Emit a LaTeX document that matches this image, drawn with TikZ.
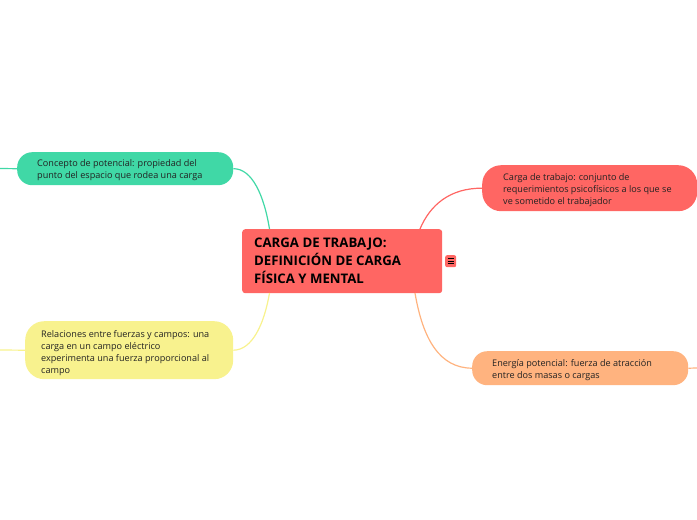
\documentclass[tikz,border=0pt]{standalone}
\usepackage{fontspec}
\setmainfont{Open Sans}
\definecolor{cgreen}{HTML}{40D8A6}
\definecolor{cyellow}{HTML}{F8F28E}
\definecolor{cred}{HTML}{FF6663}
\definecolor{corange}{HTML}{FFB37F}
\definecolor{ctext}{HTML}{222222}
\tikzset{
  topic/.style={rounded corners=#1,inner sep=0pt,anchor=north west},
  label/.style={anchor=north west,align=left,inner sep=0pt,text=ctext,font=\fontsize{9.1}{12}\selectfont},
  link/.style={line width=1.2pt},
}
\begin{document}
\begin{tikzpicture}[x=1pt,y=-1pt]
\useasboundingbox (0,0) rectangle (697,520);
\node[anchor=north west,fill=cred,rounded corners=3pt,minimum width=200pt,minimum height=64pt,inner sep=0pt] (c) at (242,229) {};
\node[anchor=north west,align=left,inner sep=0pt,text=black,font=\fontsize{13.2}{18}\selectfont\bfseries] (ct) at (254,238) {CARGA DE TRABAJO:\\DEFINICIÓN DE CARGA\\FÍSICA Y MENTAL};
\node[anchor=north west,fill=cred,rounded corners=2pt,minimum width=11pt,minimum height=12pt,inner sep=0pt] (ic) at (445,255) {};
\draw[black,line width=0.8pt] (447.5,258.5) -- (453.5,258.5) (447.5,261) -- (453.5,261) (447.5,263.5) -- (453.5,263.5);
% topics
\node[topic=15pt,fill=cgreen,minimum width=216pt,minimum height=33pt] (g) at (17,152) {};
\node[label] (gt) at (37,159.5) {Concepto de potencial: propiedad del\\punto del espacio que rodea una carga};
\node[topic=19pt,fill=cyellow,minimum width=208pt,minimum height=58pt] (y) at (25,321) {};
\node[label] (yt) at (41,330) {Relaciones entre fuerzas y campos: una\\carga en un campo eléctrico\\experimenta una fuerza proporcional al\\campo};
\node[topic=19pt,fill=cred,minimum width=215pt,minimum height=46pt] (r) at (482,165) {};
\node[label] (rt) at (503,173.5) {Carga de trabajo: conjunto de\\requerimientos psicofísicos a los que se\\ve sometido el trabajador};
\node[topic=15pt,fill=corange,minimum width=216pt,minimum height=34pt] (o) at (472,351) {};
\node[label] (ot) at (492,359) {Energía potencial: fuerza de atracción\\entre dos masas o cargas};
% connectors
\coordinate (gl) at (0,168.5);
\coordinate (yl) at (0,350);
\coordinate (or) at (697,368);
\coordinate (cgt) at (269.5,229);
\coordinate (cyb) at (269.5,293);
\coordinate (crt) at (420,229);
\coordinate (cob) at (415,293);
\draw[link,cgreen] (g.west) -- (gl);
\draw[link,cgreen] (g.east) .. controls (252,168.5) and (264,195) .. (cgt);
\draw[link,cyellow] (y.west) -- (yl);
\draw[link,cyellow] (y.east) .. controls (252,350) and (264,325) .. (cyb);
\draw[link,cred] (r.west) .. controls (450,188) and (430,205) .. (crt);
\draw[link,corange] (o.west) .. controls (440,368) and (423,340) .. (cob);
\draw[link,corange] (o.east) -- (or);
\end{tikzpicture}
\end{document}
